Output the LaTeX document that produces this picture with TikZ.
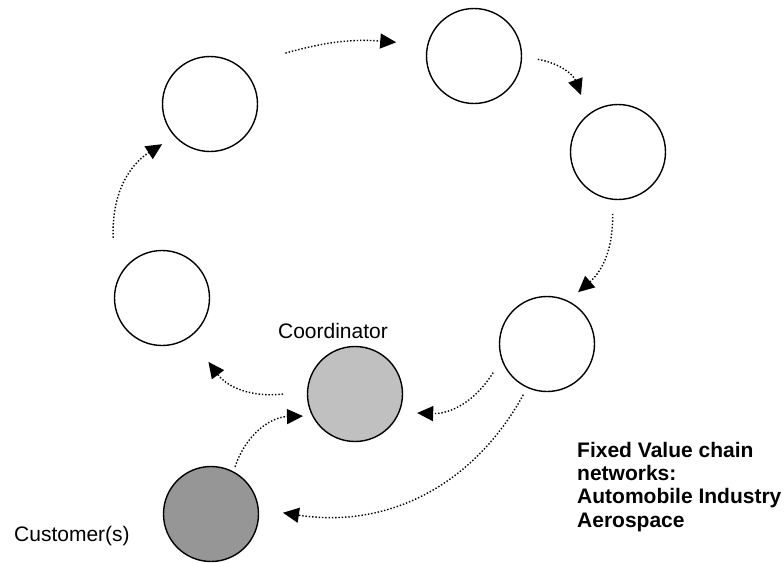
\documentclass[tikz,border=0pt]{standalone}
\usepackage{fontspec}
\setmainfont{Liberation Sans}
\usetikzlibrary{arrows.meta,calc}
\definecolor{CoordGray}{HTML}{C0C0C0}
\definecolor{CustGray}{HTML}{969696}

\begin{document}
\begin{tikzpicture}[x=1pt,y=-1pt,
  firm/.style={circle,draw=black,line width=1.4pt,minimum size=95pt,inner sep=0pt,fill=white},
  flow/.style={line width=1.4pt,dash pattern=on 1.4pt off 1.9pt,
    -{Triangle[length=16pt,width=15pt]}},
  lab/.style={inner sep=0pt,font=\fontsize{21}{23.4}\selectfont}]
  \useasboundingbox (0,0) rectangle (784,562);
  % value chain partners, clockwise from top left
  \node[firm] (c1) at (210,104) {};
  \node[firm] (c2) at (474,56) {};
  \node[firm] (c3) at (618,152) {};
  \node[firm] (c4) at (547,344) {};
  \node[firm] (c5) at (162,298) {};
  \node[firm,fill=CoordGray] (coord) at (355,394) {};
  \node[firm,fill=CustGray] (cust) at (211,514) {};
  % labels
  \node[lab,anchor=base] (coordlab) at (333,338) {Coordinator};
  \node[lab,anchor=base west] (custlab) at (14,541.7) {Customer(s)};
  % base of a multi-line node is its last line
  \node[lab,anchor=base west,align=left,font=\fontsize{21}{23.4}\selectfont\bfseries]
    (netlab) at (577,527.3)
    {Fixed Value chain\\networks:\\Automobile Industry\\Aerospace};
  % dotted flows
  \draw[flow] ($(c1)+(34:91pt)$) to[bend left=10] ($(c2)+(170:79pt)$);
  \draw[flow] ($(c2)+(-3:64pt)$) to[bend left=30] ($(c3)+(123:68pt)$);
  \draw[flow] ($(c3)+(265:62pt)$) to[bend left=25] ($(c4)+(59:60.5pt)$);
  \draw[flow] ($(c4)+(208:61pt)$) to[bend left=30] ($(coord)+(343:65pt)$);
  \draw[flow] ($(c4)+(245:56pt)$) to[bend left=35] ($(cust)+(1:72pt)$);
  \draw[flow] ($(coord)+(180:72pt)$) to[bend left=30] ($(c5)+(306:79pt)$);
  \draw[flow] ($(cust)+(63:53pt)$) to[bend left=35] ($(coord)+(203:56.5pt)$);
  \draw[flow] ($(c5)+(129:77.5pt)$) to[bend left=30] ($(c1)+(220:62.5pt)$);
\end{tikzpicture}
\end{document}
